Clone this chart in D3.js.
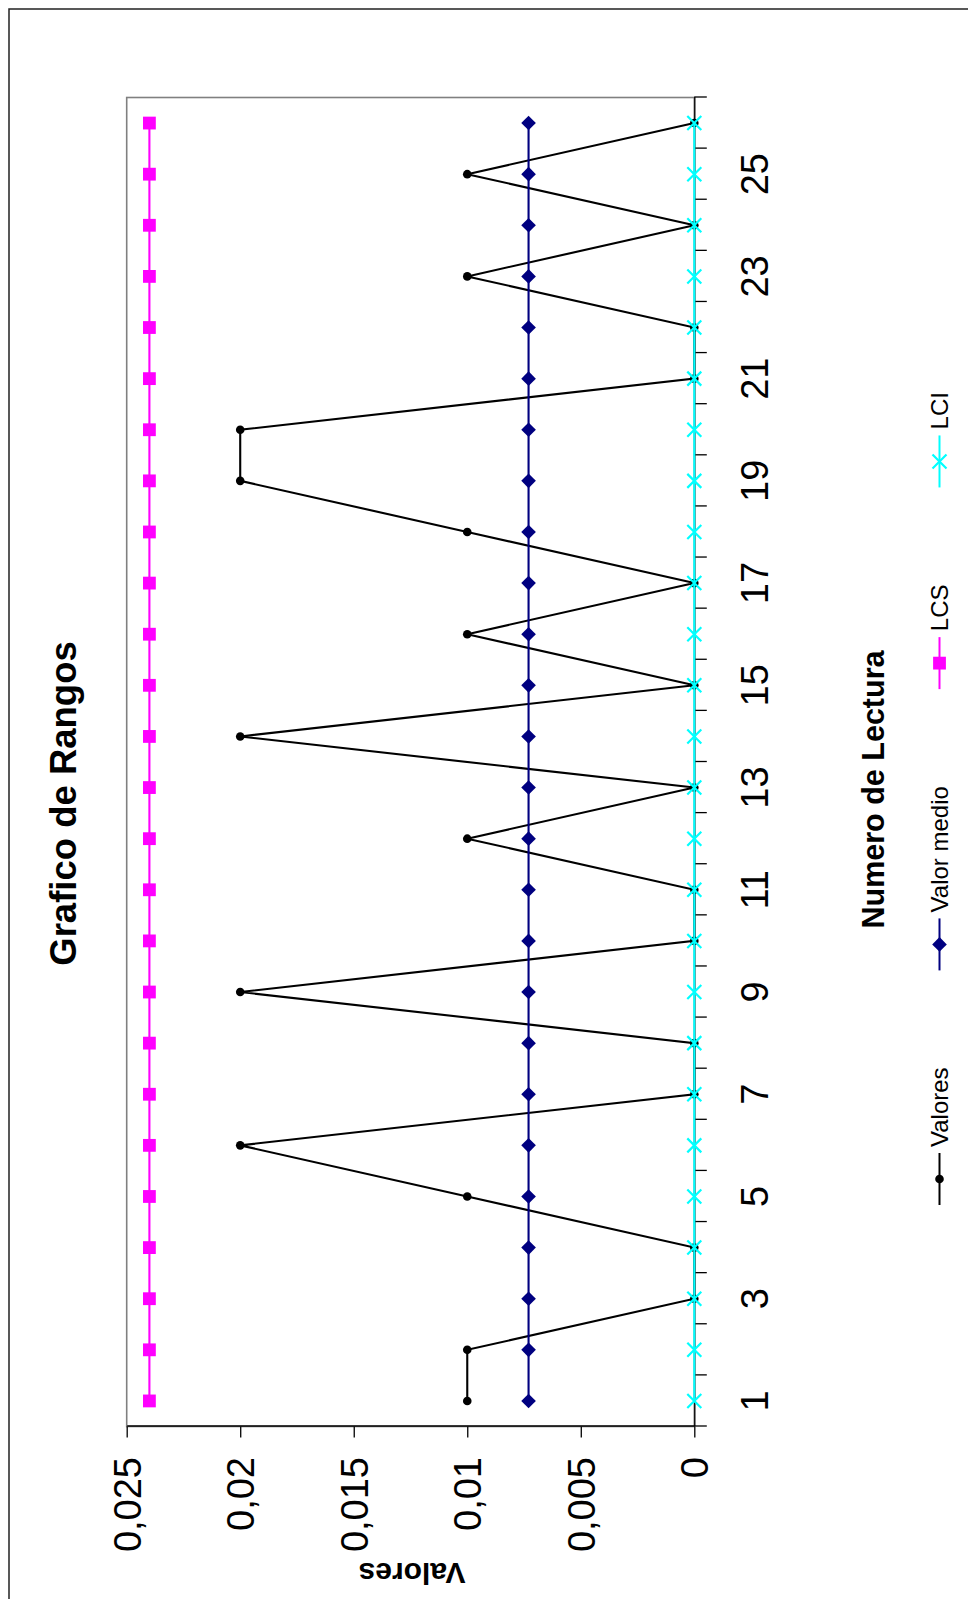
<!DOCTYPE html>
<html>
<head>
<meta charset="utf-8">
<script src="https://cdn.jsdelivr.net/npm/d3@7"></script>
<style>
  body { margin: 0; background: #fff; }
  svg { display: block; font-family: "Liberation Sans", Arial, sans-serif; }
</style>
</head>
<body>
<div id="chart"></div>
<script>
// Numero de Lectura (categories)
var lecturas = [1, 2, 3, 4, 5, 6, 7, 8, 9, 10, 11, 12, 13, 14, 15, 16, 17, 18, 19, 20, 21, 22, 23, 24, 25, 26];
var labelLecturas = [1, 3, 5, 7, 9, 11, 13, 15, 17, 19, 21, 23, 25];

// series values
var valores    = [0.01, 0.01, 0, 0, 0.01, 0.02, 0, 0, 0.02, 0, 0, 0.01, 0, 0.02, 0, 0.01, 0, 0.01, 0.02, 0.02, 0, 0, 0.01, 0, 0.01, 0];
var valorMedio = [0.0073, 0.0073, 0.0073, 0.0073, 0.0073, 0.0073, 0.0073, 0.0073, 0.0073, 0.0073, 0.0073, 0.0073, 0.0073,
                  0.0073, 0.0073, 0.0073, 0.0073, 0.0073, 0.0073, 0.0073, 0.0073, 0.0073, 0.0073, 0.0073, 0.0073, 0.0073];
var lcs        = [0.024, 0.024, 0.024, 0.024, 0.024, 0.024, 0.024, 0.024, 0.024, 0.024, 0.024, 0.024, 0.024,
                  0.024, 0.024, 0.024, 0.024, 0.024, 0.024, 0.024, 0.024, 0.024, 0.024, 0.024, 0.024, 0.024];
var lci        = [0, 0, 0, 0, 0, 0, 0, 0, 0, 0, 0, 0, 0, 0, 0, 0, 0, 0, 0, 0, 0, 0, 0, 0, 0, 0];

// value axis ticks
var yTicks = [0, 0.005, 0.01, 0.015, 0.02, 0.025];
var yTickLabels = ["0", "0,005", "0,01", "0,015", "0,02", "0,025"];

var series = [
    {name: "Valores", values: valores, color: "#000000", marker: "circle"},
    {name: "Valor medio", values: valorMedio, color: "#000080", marker: "diamond"},
    {name: "LCS", values: lcs, color: "#FF00FF", marker: "square"},
    {name: "LCI", values: lci, color: "#00FFFF", marker: "cross"}
];

var W = 968, H = 1599;

var svg = d3.select("#chart").append("svg")
            .attr("width", W)
            .attr("height", H);

// outer chart border (cut off on the right and at the bottom)
svg.append("rect")
    .attr("x", 9).attr("y", 9)
    .attr("width", 1200).attr("height", 1800)
    .attr("fill", "none")
    .attr("stroke", "#222")
    .attr("stroke-width", 1.5);

// the chart is drawn upright, then turned a quarter turn
var g = svg.append("g")
    .attr("transform", "translate(0," + H + ") rotate(-90)");

var plot = {left: 172.5, right: 1501.5, top: 126.7, bottom: 694.3};

var x = d3.scaleBand()
    .domain(lecturas)
    .range([plot.left, plot.right]);

var xEdges = d3.scaleLinear()
    .domain([0, lecturas.length])
    .range([plot.left, plot.right]);

var y = d3.scaleLinear()
    .domain([0, 0.025])
    .range([plot.bottom, plot.top]);

// plot area border
g.append("rect")
    .attr("x", plot.left).attr("y", plot.top)
    .attr("width", plot.right - plot.left)
    .attr("height", plot.bottom - plot.top)
    .attr("fill", "none")
    .attr("stroke", "#808080")
    .attr("stroke-width", 1.6);

// category axis: tick marks between categories
g.append("g")
    .attr("transform", "translate(0," + plot.bottom + ")")
    .call(d3.axisBottom(xEdges).ticks(lecturas.length).tickSize(12.5).tickSizeOuter(0).tickFormat(""))
    .call(function(a) {
        a.selectAll("path, line").attr("stroke", "#000").attr("stroke-width", 1.3);
    });

// category labels (every other one)
g.append("g")
    .attr("transform", "translate(0," + plot.bottom + ")")
    .call(d3.axisBottom(x).tickValues(labelLecturas).tickSize(0))
    .call(function(a) { a.select(".domain").remove(); })
    .selectAll("text")
        .attr("y", 74)
        .attr("dy", null)
        .attr("font-size", 38)
        .attr("font-family", "Liberation Sans, Arial, sans-serif");

// value axis
g.append("g")
    .attr("transform", "translate(" + plot.left + ",0)")
    .call(d3.axisLeft(y).tickValues(yTicks).tickSize(11).tickSizeOuter(0)
            .tickFormat(function(d, i) { return yTickLabels[i]; }))
    .call(function(a) {
        a.selectAll("path, line").attr("stroke", "#000").attr("stroke-width", 1.3);
    })
    .selectAll("text")
        .attr("x", -30.5)
        .attr("dy", "0.35em")
        .attr("font-size", 38)
        .attr("font-family", "Liberation Sans, Arial, sans-serif");

// markers
function drawMarker(sel, type, color) {
    if (type == "circle") {
        sel.append("circle").attr("r", 4.3).attr("fill", color);
    } else if (type == "diamond") {
        sel.append("path").attr("d", "M0,-7.3L7.3,0L0,7.3L-7.3,0Z").attr("fill", color);
    } else if (type == "square") {
        sel.append("rect").attr("x", -6.4).attr("y", -6.4)
            .attr("width", 12.8).attr("height", 12.8).attr("fill", color);
    } else {
        sel.append("path").attr("d", "M-7,-7L7,7M-7,7L7,-7")
            .attr("stroke", color).attr("stroke-width", 2.2).attr("fill", "none");
    }
}

var line = d3.line()
    .x(function(d, i) { return x(lecturas[i]) + x.bandwidth() / 2; })
    .y(function(d) { return y(d); });

series.forEach(function(s) {
    var sg = g.append("g");
    sg.append("path")
        .attr("d", line(s.values))
        .attr("fill", "none")
        .attr("stroke", s.color)
        .attr("stroke-width", 2.1);
    sg.selectAll("g.mk")
        .data(s.values)
        .enter().append("g")
            .attr("class", "mk")
            .attr("transform", function(d, i) {
                return "translate(" + (x(lecturas[i]) + x.bandwidth() / 2) + "," + y(d) + ")";
            })
            .each(function() { drawMarker(d3.select(this), s.marker, s.color); });
});

// chart title
g.append("text")
    .attr("x", 795.5).attr("y", 76)
    .attr("text-anchor", "middle")
    .attr("font-size", 36.5)
    .attr("font-weight", "bold")
    .text("Grafico de Rangos");

// axis titles
g.append("text")
    .attr("x", 809.5).attr("y", 884)
    .attr("text-anchor", "middle")
    .attr("font-size", 30.5)
    .attr("font-weight", "bold")
    .text("Numero de Lectura");

g.append("text")
    .attr("transform", "translate(36,412) rotate(-90)")
    .attr("text-anchor", "middle")
    .attr("font-size", 30)
    .attr("font-weight", "bold")
    .text("Valores");

// legend below the plot
var legendX = 394;
series.forEach(function(s) {
    var lg = g.append("g").attr("transform", "translate(" + legendX + ",939.5)");
    lg.append("line")
        .attr("x1", 0).attr("x2", 52)
        .attr("stroke", s.color)
        .attr("stroke-width", 2);
    drawMarker(lg.append("g").attr("transform", "translate(26,0)"), s.marker, s.color);
    var t = lg.append("text")
        .attr("x", 58).attr("y", 8.5)
        .attr("font-size", 24)
        .text(s.name);
    legendX += 58 + t.node().getComputedTextLength() + 97;
});
</script>
</body>
</html>
